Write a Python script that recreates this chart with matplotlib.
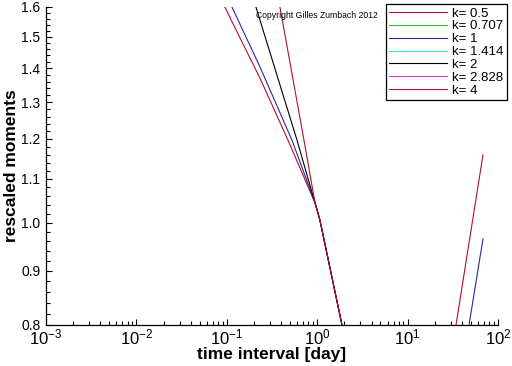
import matplotlib
matplotlib.use('Agg')
import matplotlib.pyplot as plt
from matplotlib.ticker import FixedLocator, MultipleLocator, FormatStrFormatter, LogLocator

plt.rcParams['font.family'] = ['Liberation Sans', 'DejaVu Sans']
plt.rcParams['mathtext.fontset'] = 'custom'
plt.rcParams['mathtext.rm'] = 'Liberation Sans'
plt.rcParams['mathtext.it'] = 'Liberation Sans'

# rescaled moments vs time interval, one curve per moment exponent k
k_labels = ['k= 0.5', 'k= 0.707', 'k= 1', 'k= 1.414', 'k= 2', 'k= 2.828', 'k= 4']
k_colors = ['#b0102c', '#30c030', '#2828a0', '#40e0e0', '#000000', '#d040c0', '#b0102c']

k05_x = [0.095, 0.163, 0.233, 0.475, 0.946, 1.07, 1.88, 2.6, 26.8, 34.3, 68.2]
k05_y = [1.6, 1.457, 1.370, 1.197, 1.044, 1.006, 0.8, 0.7, 0.7, 0.8, 1.159]
k0707_x = []
k0707_y = []
k1_x = [0.114, 0.233, 0.526, 0.946, 1.07, 1.88, 2.6, 37.1, 47.8, 68.2]
k1_y = [1.6, 1.404, 1.197, 1.044, 1.006, 0.8, 0.7, 0.7, 0.8, 0.965]
k1414_x = []
k1414_y = []
k2_x = [0.21, 0.598, 0.946, 1.07, 1.88, 2.6]
k2_y = [1.6, 1.197, 1.044, 1.006, 0.8, 0.7]
k2828_x = []
k2828_y = []
k4_x = [0.387, 0.714, 0.946, 1.07, 1.88, 2.6]
k4_y = [1.6, 1.197, 1.044, 1.006, 0.8, 0.7]

series_x = [k05_x, k0707_x, k1_x, k1414_x, k2_x, k2828_x, k4_x]
series_y = [k05_y, k0707_y, k1_y, k1414_y, k2_y, k2828_y, k4_y]

y_major = [0.8, 0.9, 1.0, 1.1, 1.2, 1.3, 1.4, 1.5, 1.6]

fig = plt.figure(figsize=(5.12, 3.66), dpi=100)
ax = fig.add_axes([46/512, 1 - 325/366, 452/512, 318/366])

for xs, ys, lab, col in zip(series_x, series_y, k_labels, k_colors):
    ax.plot(xs, ys, color=col, linewidth=0.8, label=lab)

ax.set_xscale('log')
ax.set_yscale('log')
ax.set_xlim(1e-3, 1e2)
ax.set_ylim(0.8, 1.6)

ax.yaxis.set_major_locator(FixedLocator(y_major))
ax.yaxis.set_minor_locator(MultipleLocator(0.02))
ax.yaxis.set_major_formatter(FormatStrFormatter('%.1f'))
ax.yaxis.set_minor_formatter(plt.NullFormatter())
ax.xaxis.set_minor_locator(LogLocator(base=10, subs=range(2, 10)))

for s in ['top', 'right']:
    ax.spines[s].set_visible(False)
for s in ['left', 'bottom']:
    ax.spines[s].set_linewidth(0.9)

ax.tick_params(which='major', direction='in', length=4.5, width=0.8, labelsize=10, color='black')
ax.tick_params(which='minor', direction='in', length=3, width=0.8)
ax.tick_params(axis='x', which='major', pad=1.5, labelsize=12)
ax.tick_params(axis='y', which='major', pad=4)

ax.set_xlabel('time interval [day]', fontsize=12.5, fontweight='bold', labelpad=0)
ax.set_ylabel('rescaled moments', fontsize=12.5, fontweight='bold')
ax.yaxis.set_label_coords(-27/452, 0.5)

fig.text(256/512, 1 - 15/366, 'Copyright Gilles Zumbach 2012', fontsize=6.2,
         va='center', ha='left')

leg = ax.legend(loc='upper right', bbox_to_anchor=(507/512, 1 - 4/366),
                bbox_transform=fig.transFigure, fontsize=9.5, frameon=True,
                fancybox=False, borderaxespad=0, handlelength=4.4,
                labelspacing=0.05, borderpad=0.25, handletextpad=0.4)
leg.get_frame().set_edgecolor('black')
leg.get_frame().set_linewidth(0.9)
leg.get_frame().set_alpha(1)

plt.savefig('out.png', dpi=100, facecolor='white')
